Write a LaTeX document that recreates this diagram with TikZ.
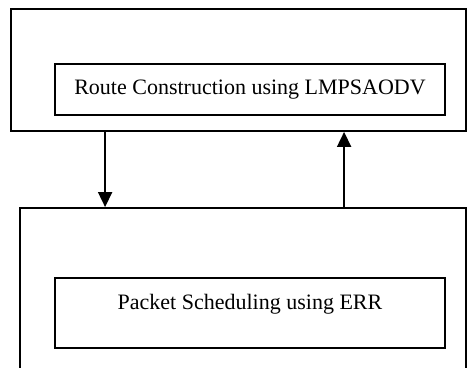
\documentclass[tikz,border=0pt]{standalone}
\usepackage{fontspec}
\setmainfont{Liberation Serif}
\usetikzlibrary{arrows.meta,positioning}
\tikzset{
  frame/.style={draw, line width=0.9pt, inner sep=0pt},
  block/.style={draw, line width=0.9pt, inner sep=0pt, minimum width=195pt,
                align=center, font=\fontsize{11}{13}\selectfont},
  arrow/.style={-{Triangle[length=7.5pt, width=7pt]}, line width=0.9pt},
}

\begin{document}
\begin{tikzpicture}[x=0.5pt, y=0.5pt]
\clip (0,0) rectangle (467,368);

% ================= upper part: routing =================
\node[frame, minimum width=227.5pt, minimum height=61pt] (routeframe) at (238.5,298) {};
\node[block, minimum height=25.5pt] (route) at (250,278.5)
  {Route Construction using LMPSAODV};

% ================= lower part: scheduling =================
\node[frame, minimum width=223pt, minimum height=100pt] (schedframe) at (243,60) {};
\node[block, text height=15.6pt, text depth=19.4pt] (sched) at (250,55)
  {Packet Scheduling using ERR};

% links between the two parts
\draw[arrow] ([xshift=47.5pt]routeframe.south west)
  -- ([xshift=47.5pt]routeframe.south west |- schedframe.north);
\draw[arrow] ([xshift=167pt]routeframe.south west |- schedframe.north)
  -- ([xshift=167pt]routeframe.south west);

\end{tikzpicture}
\end{document}
